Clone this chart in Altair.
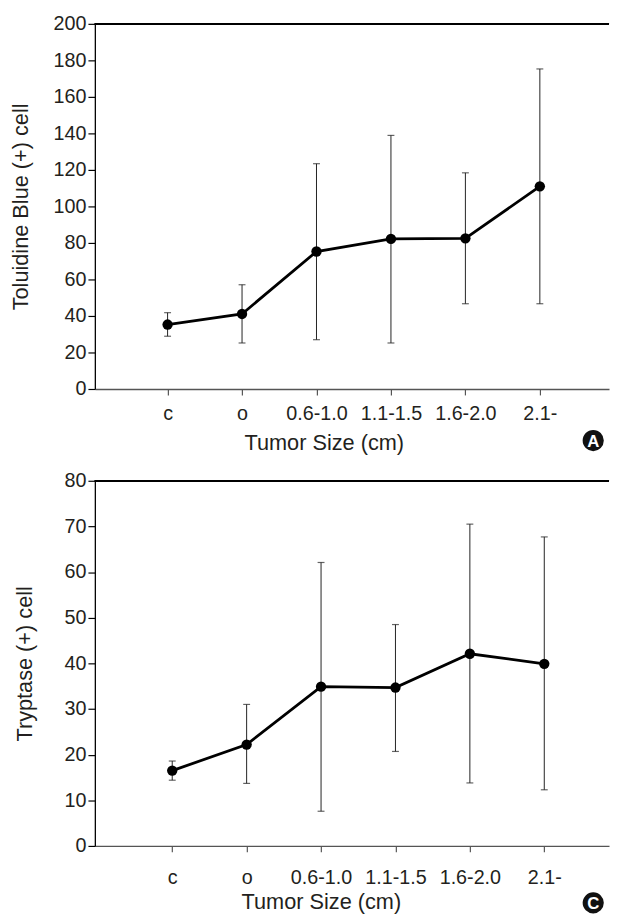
import json
import altair as alt
import pandas as pd

categories = ["c", "o", "0.6-1.0", "1.1-1.5", "1.6-2.0", "2.1-"]
positions = [1, 2, 3, 4, 5, 6]

tb_mean = [35.3, 41.1, 75.3, 82.2, 82.5, 111.0]
tb_low = [28.9, 25.2, 27.0, 25.2, 46.7, 46.7]
tb_high = [41.8, 57.1, 123.4, 138.9, 118.4, 175.3]

tr_mean = [16.5, 22.2, 34.9, 34.7, 42.1, 39.9]
tr_low = [14.4, 13.7, 7.6, 20.7, 13.8, 12.3]
tr_high = [18.6, 31.0, 62.1, 48.5, 70.5, 67.7]

FONT = "Liberation Sans"
TXT = "#231f20"
label_expr = json.dumps(categories) + "[datum.value - 1]"


def panel(mean, low, high, ymax, ystep, ytitle, xdom, ytitlepad, xlabpad, xtitlepad, xtitlex, tag, tag_y):
    df = pd.DataFrame({"pos": positions, "cat": categories, "mean": mean, "low": low, "high": high})
    x = alt.X(
        "pos:Q",
        scale=alt.Scale(domain=xdom, nice=False, zero=False),
        axis=alt.Axis(
            values=positions, labelExpr=label_expr, title="Tumor Size (cm)",
            grid=False, tickSize=6, labelPadding=xlabpad, titlePadding=xtitlepad,
            titleX=xtitlex, titleAlign="center", titleAnchor="start",
            domainColor="#555555", tickColor="#555555", domainWidth=1.3, tickWidth=1.2,
            labelFont=FONT, titleFont=FONT, labelFontSize=20, titleFontSize=22,
            labelColor=TXT, titleColor=TXT, titleFontWeight="normal", labelFlush=False,
            labelOverlap=False,
        ),
    )
    yscale = alt.Scale(domain=[0, ymax], nice=False)
    yaxis = alt.Axis(
        values=list(range(0, ymax + 1, ystep)), title=ytitle, grid=False,
        tickSize=7, labelPadding=2, titlePadding=ytitlepad, labelOverlap=False,
        domainColor="#000000", tickColor="#000000", domainWidth=1.3, tickWidth=1.2,
        labelFont=FONT, titleFont=FONT, labelFontSize=20, titleFontSize=22,
        labelColor=TXT, titleColor=TXT, titleFontWeight="normal",
    )
    y = alt.Y("mean:Q", scale=yscale, axis=yaxis)
    ylo = alt.Y("low:Q", scale=yscale, axis=yaxis)
    yhi = alt.Y("high:Q", scale=yscale, axis=yaxis)
    base = alt.Chart(df)
    line = base.mark_line(color="#000000", strokeWidth=2.8).encode(x=x, y=y)
    bars = base.mark_rule(color="#222222", strokeWidth=1).encode(x=x, y=ylo, y2="high:Q")
    cap_lo = base.mark_tick(orient="horizontal", size=7, thickness=1.2, color="#222222").encode(x=x, y=ylo)
    cap_hi = base.mark_tick(orient="horizontal", size=7, thickness=1.2, color="#222222").encode(x=x, y=yhi)
    pts = base.mark_circle(color="#000000", opacity=1, size=110).encode(x=x, y=y)
    top = base.mark_rule(color="#000000", strokeWidth=1.8).encode(
        y=alt.YDatum(ymax, scale=yscale, axis=yaxis))
    tagdf = pd.DataFrame({"tag": [tag]})
    circ = alt.Chart(tagdf).mark_circle(color="#111111", opacity=1, size=460).encode(
        x=alt.value(505), y=alt.value(tag_y))
    txt = alt.Chart(tagdf).mark_text(color="white", font=FONT, fontSize=17, fontWeight="bold",
                                     baseline="middle", align="center", dy=1).encode(
        x=alt.value(505), y=alt.value(tag_y), text="tag:N")
    return alt.layer(line, bars, cap_lo, cap_hi, pts, top, circ, txt).properties(width=521, height=370)


chart_a = panel(tb_mean, tb_low, tb_high, 200, 20, "Toluidine Blue (+) cell", [0.023, 6.929],
                20.6, 9.4, 9.1, 232, "A", 422.3)
chart_c = panel(tr_mean, tr_low, tr_high, 80, 10, "Tryptase (+) cell", [-0.04, 6.87],
                28.3, 16, 4.1, 229, "C", 427.7)

chart = alt.vconcat(chart_a, chart_c, spacing=93, bounds="flush").properties(
    padding={"left": 2, "top": 0, "right": 0, "bottom": 0}
).configure_view(strokeWidth=0)

chart.save("out.html", embed_options={"renderer": "svg", "actions": False})
